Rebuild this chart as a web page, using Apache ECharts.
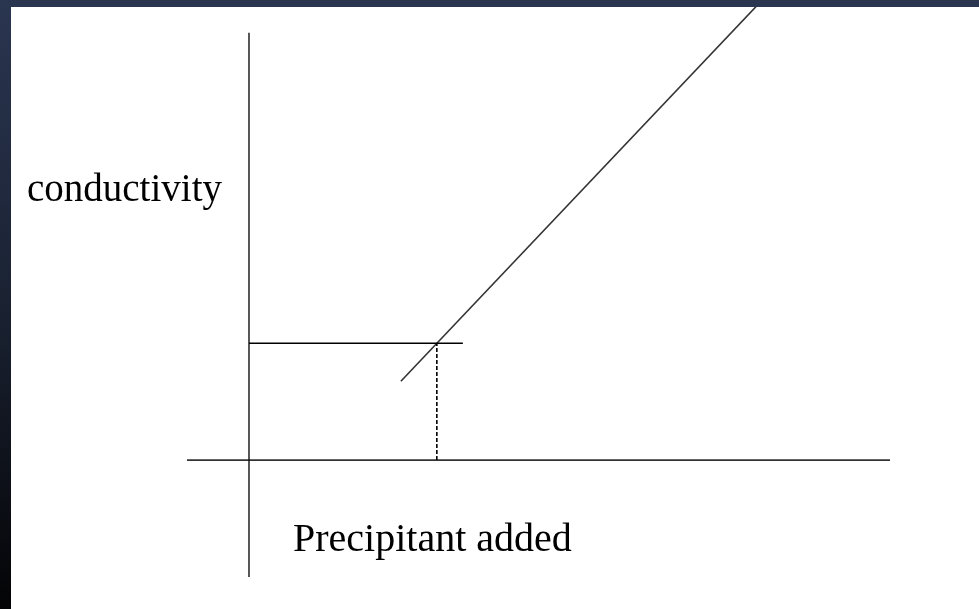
<!DOCTYPE html>
<html>
<head>
<meta charset="utf-8">
<title>conductivity vs precipitant added</title>
<script src="https://cdn.jsdelivr.net/npm/echarts@6/dist/echarts.min.js"></script>
<style>
  html, body { margin: 0; padding: 0; background: #fff; }
  #chart { width: 979px; height: 609px; }
</style>
</head>
<body>
<div id="chart"></div>
<script>
// axis lines (precipitant added, conductivity) in arbitrary units
var xAxisLine = [[-1, 0], [10.34, 0]]
var yAxisLine = [[0, -2.58], [0, 9.43]]
// conductivity rises after the equivalence point
var conductivityLine = [[2.45, 1.74], [8.45, 10.4]]
// equivalence point guides
var levelLine = [[0, 2.58], [3.45, 2.58]]
var equivalenceDrop = [[3.03, 0], [3.03, 2.58]]

var xLabel = 'Precipitant added'
var yLabel = 'conductivity'

var chart = echarts.init(document.getElementById('chart'))

function seg(data, color, width, type) {
  return {
    type: 'line',
    data: data,
    symbol: 'none',
    silent: true,
    lineStyle: { color: color, width: width, type: type || 'solid' }
  }
}

chart.setOption({
  animation: false,
  backgroundColor: '#fff',
  grid: { left: 187, right: 89, top: 7, bottom: 32 },
  xAxis: { type: 'value', min: -1, max: 10.34, show: false },
  yAxis: { type: 'value', min: -2.58, max: 10, show: false },
  series: [
    seg(xAxisLine, '#333', 1.8),
    seg(yAxisLine, '#111', 1.4),
    seg(conductivityLine, '#333', 1.6),
    seg(levelLine, '#000', 1.4),
    seg(equivalenceDrop, '#000', 1.6, [4, 2])
  ],
  graphic: [
    {
      type: 'rect',
      z: 100,
      shape: { x: 0, y: 0, width: 979, height: 7 },
      style: { fill: '#2a3550' }
    },
    {
      type: 'rect',
      z: 100,
      shape: { x: 0, y: 0, width: 11, height: 609 },
      style: {
        fill: new echarts.graphic.LinearGradient(0, 0, 0, 1, [
          { offset: 0, color: '#2a3550' },
          { offset: 0.5, color: '#1a2232' },
          { offset: 1, color: '#040406' }
        ])
      }
    },
    {
      type: 'text',
      left: 27,
      top: 171,
      style: {
        text: yLabel,
        font: '39px "Liberation Serif", "Times New Roman", serif',
        fill: '#000'
      }
    },
    {
      type: 'text',
      left: 293,
      top: 520,
      style: {
        text: xLabel,
        font: '40px "Liberation Serif", "Times New Roman", serif',
        fill: '#000'
      }
    }
  ]
})
</script>
</body>
</html>
